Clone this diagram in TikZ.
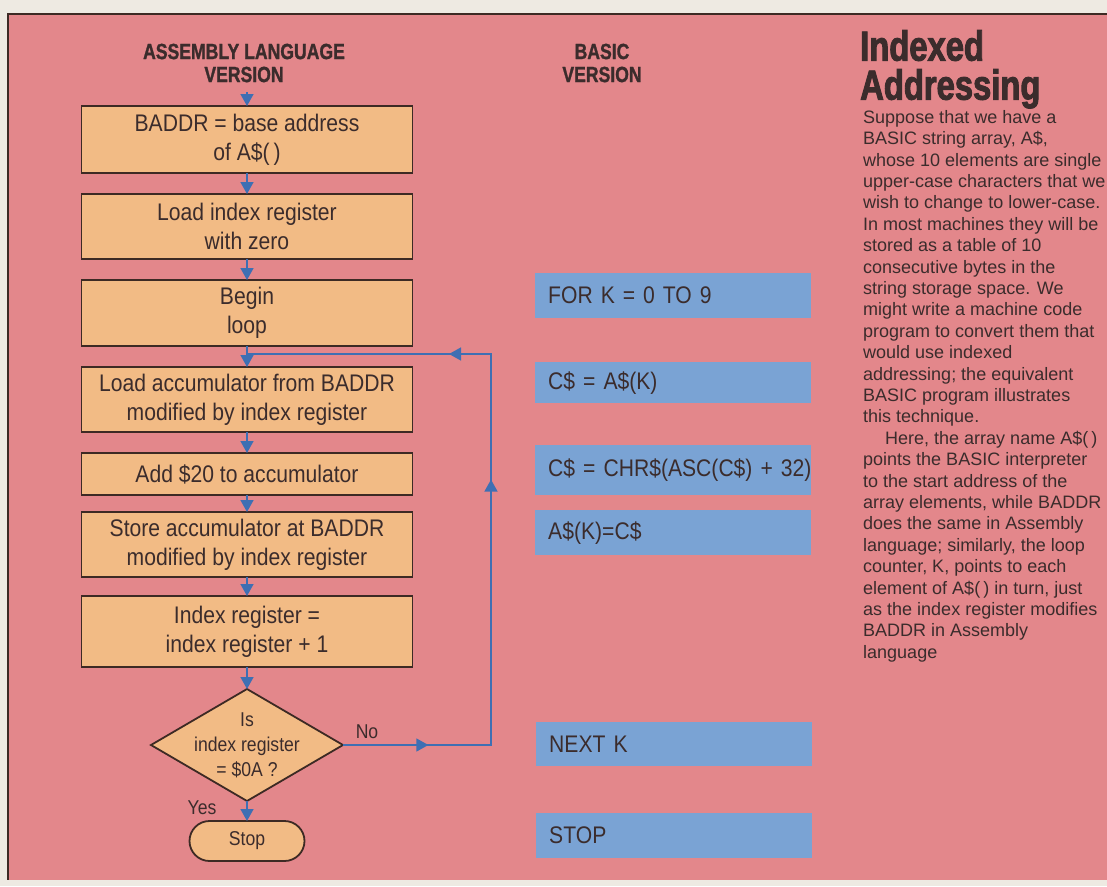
\documentclass[tikz,border=0pt]{standalone}
\usepackage{fontspec}
\setmainfont[FakeStretch=0.88]{Liberation Sans}
\newfontfamily\bodyfont{Liberation Sans}
\newfontfamily\headfont[FakeStretch=0.8, FakeBold=1.2]{Liberation Sans Bold}
\newfontfamily\titlefont[FakeStretch=0.78, FakeBold=2.2]{Liberation Sans Bold}
\usetikzlibrary{positioning}
\usetikzlibrary{shapes.geometric}
\usetikzlibrary{arrows.meta}
\usetikzlibrary{calc}
\usetikzlibrary{decorations.markings}
\definecolor{paper}{HTML}{EEEAE2}
\definecolor{panel}{HTML}{E3878B}
\definecolor{boxfill}{HTML}{F2BB85}
\definecolor{boxline}{HTML}{3D2A24}
\definecolor{basicfill}{HTML}{7AA3D4}
\definecolor{flowblue}{HTML}{3E6FB3}
\definecolor{ink}{HTML}{3B2C2C}

\begin{document}
\begin{tikzpicture}[x=1pt, y=-1pt,
  every node/.style={text=ink},
  stepbox/.style={draw=boxline, line width=1.8pt, fill=boxfill, minimum width=331pt, minimum height=65pt, align=center, inner sep=0pt, outer sep=0pt, font=\fontsize{24}{29}\selectfont},
  decision/.style={diamond, draw=boxline, line width=1.8pt, fill=boxfill, minimum width=192pt, minimum height=112pt, inner sep=0pt, outer sep=0pt},
  terminal/.style={draw=boxline, line width=1.8pt, fill=boxfill, rounded corners=20pt, minimum width=115pt, minimum height=40pt, inner sep=0pt, outer sep=0pt, font=\fontsize{20}{24}\selectfont},
  basic/.style={fill=basicfill, anchor=north west, minimum width=276pt, text width=250pt, inner xsep=13pt, inner ysep=0pt, align=left, font=\fontsize{24}{28}\selectfont},
  head/.style={align=center, font=\headfont\fontsize{22}{23}\selectfont},
  small/.style={font=\fontsize{20}{25}\selectfont},
  tip/.style={-{Triangle[width=13pt,length=12pt]}},
  flow/.style={draw=flowblue, line width=1.5pt, tip}
]

% --- Page and panel ----------------------------------------------------------
\useasboundingbox (0,0) rectangle (1107,886);
\fill[paper] (0,0) rectangle (1107,886);
\fill[panel] (8,14) rectangle (1107,880);
\draw[boxline, line width=1.2pt] (1107,14) -- (8,14) -- (8,880);

% --- Column headings ---------------------------------------------------------
\node[head] (asmhead) at (244,63) {ASSEMBLY LANGUAGE\\VERSION};
\node[head] (basichead) at (602,63) {BASIC\\VERSION};

% --- Assembly language flowchart ---------------------------------------------
\node[stepbox, minimum height=67pt, anchor=north] (addr) at (247,106)
{BADDR = base address\\of A\$(\,)};
\node[stepbox, below=21pt of addr] (zero) {Load index register\\with zero};
\node[stepbox, minimum height=66pt, below=21pt of zero] (begin) {Begin\\loop};
\node[stepbox, below=21pt of begin] (load)
{Load accumulator from BADDR\\modified by index register};
\node[stepbox, minimum height=42pt, below=21pt of load] (add) {Add \$20 to accumulator};
\node[stepbox, below=17pt of add] (store)
{Store accumulator at BADDR\\modified by index register};
\node[stepbox, minimum height=71pt, below=19pt of store] (incr)
{Index register =\\index register + 1};
\node[decision, below=22pt of incr] (test) {};
\node[small, align=center] (testtxt) at (test) {Is\\index register\\= \$0A ?};
\node[terminal, below=20pt of test] (stop) {Stop};

\node[small] (nolbl) at (367,732) {No};
\node[small] (yeslbl) at (202,808) {Yes};

% --- Vertical flow -----------------------------------------------------------
\coordinate (entry) at ($(addr.north)+(0,14pt)$);
\draw[flow] (entry) -- (addr);
\draw[flow] (addr) -- (zero);
\draw[flow] (zero) -- (begin);
\draw[flow] (begin) -- (load);
\draw[flow] (load) -- (add);
\draw[flow] (add) -- (store);
\draw[flow] (store) -- (incr);
\draw[flow] (incr) -- (test);
\draw[flow] (test) -- (stop);

% --- Loop back ---------------------------------------------------------------
\coordinate (loopx) at (491,0);
\coordinate (join) at ($(begin.south)+(0,-8pt)$);
\draw[draw=flowblue, line width=1.5pt, postaction={decorate}, decoration={markings,
    mark=at position 0.109 with {\arrow{Triangle[width=13pt,length=12pt]}},
    mark=at position 0.528 with {\arrow{Triangle[width=13pt,length=12pt]}},
    mark=at position 0.742 with {\arrow{Triangle[width=13pt,length=12pt]}}}]
  (test.east) -- (test.east -| loopx) |- (join);

% --- BASIC version -----------------------------------------------------------
\node[basic, minimum height=45pt] (fork) at (535,273) {FOR K = 0 TO 9};
\node[basic, minimum height=41pt] (getc) at (535,362) {C\$ = A\$(K)};
\node[basic, minimum height=50pt] (lower) at (535,445) {\mbox{C\$ = CHR\$(ASC(C\$) + 32)}};
\node[basic, minimum height=45pt] (putc) at (535,510) {A\$(K)=C\$};
\node[basic, minimum height=44pt] (nextk) at (536,722) {NEXT K};
\node[basic, minimum height=45pt] (basicstop) at (536,813) {STOP};

% --- Side text ---------------------------------------------------------------
\node[anchor=north west, inner sep=0pt, align=left,
  font=\titlefont\fontsize{42}{39}\selectfont] (title) at (860,30)
{Indexed\\Addressing};

\node[anchor=north west, inner sep=0pt, align=left,
  font=\bodyfont\fontsize{18}{21.4}\selectfont] (body) at (863,110)
{Suppose that we have a\\
BASIC string array, A\$,\\
whose 10 elements are single\\
upper-case characters that we\\
wish to change to lower-case.\\
In most machines they will be\\
stored as a table of 10\\
consecutive bytes in the\\
string storage space. We\\
might write a machine code\\
program to convert them that\\
would use indexed\\
addressing; the equivalent\\
BASIC program illustrates\\
this technique.\\
\hspace*{22pt}Here, the array name A\$(\,)\\
points the BASIC interpreter\\
to the start address of the\\
array elements, while BADDR\\
does the same in Assembly\\
language; similarly, the loop\\
counter, K, points to each\\
element of A\$(\,) in turn, just\\
as the index register modifies\\
BADDR in Assembly\\
language};

\end{tikzpicture}
\end{document}
